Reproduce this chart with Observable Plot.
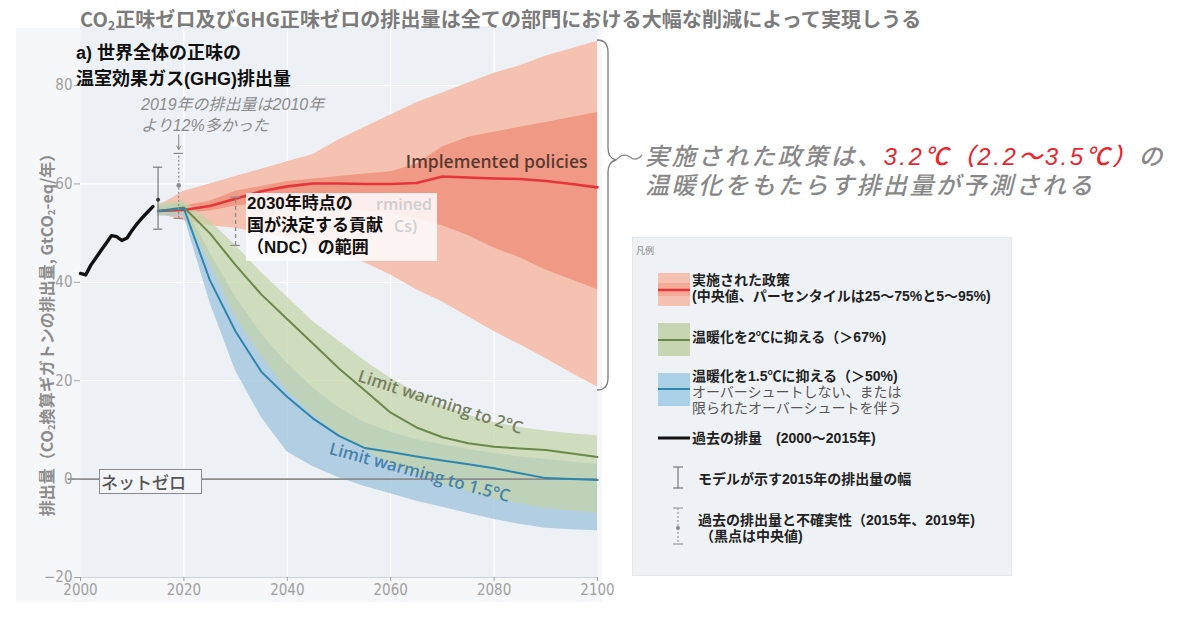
<!DOCTYPE html>
<html><head><meta charset="utf-8">
<script src="https://cdn.jsdelivr.net/npm/d3@7"></script>
<script src="https://cdn.jsdelivr.net/npm/@observablehq/plot@0.6"></script>
<style>
body{margin:0;background:#fff;font-family:"Noto Sans CJK JP","Noto Sans",sans-serif;}
#wrap{position:relative;width:1200px;height:619px;overflow:hidden;}
#wrap svg.plot{position:absolute;left:0;top:0;z-index:1;}
.abs{position:absolute;white-space:nowrap;z-index:2;}
.tight{font-family:"Liberation Sans","Noto Sans CJK JP",sans-serif;}
.lg{font-family:"Liberation Sans","Noto Sans CJK JP",sans-serif;font-size:14px;line-height:15px;font-weight:700;color:#222;}
.lgn{font-family:"Liberation Sans","Noto Sans CJK JP",sans-serif;font-size:14px;line-height:15px;font-weight:400;color:#555;}
sub{font-size:0.6em;vertical-align:-0.25em;line-height:0;}
</style></head><body><div id="wrap"></div>
<script>
// ---------- data ----------
const xTicks = [2000, 2020, 2040, 2060, 2080, 2100];
const yTicks = [-20, 0, 20, 40, 60, 80];

const histYears  = [2000,2001,2002,2003,2004,2005,2006,2007,2008,2009,2010,2011,2012,2013,2014];
const histValues = [41.8,41.5,43.5,45.0,46.5,48.0,49.5,49.3,48.5,49.0,50.6,52.0,53.2,54.3,55.4];

const years = [2015,2020,2025,2030,2035,2040,2045,2050,2055,2060,2065,2070,2075,2080,2085,2090,2095,2100];
// Implemented policies
const ipMedian = [54.5,54.7,55.5,57.0,58.5,59.5,60.1,60.1,60.0,60.0,60.2,61.5,61.3,61.1,61.0,60.6,60.0,59.3];
const ip25     = [54.0,54.0,54.5,55.5,56.0,56.0,55.5,55.0,54.5,54.0,53.0,51.5,49.5,47.0,45.0,42.5,40.5,38.5];
const ip75     = [55.0,55.5,56.5,58.5,59.5,60.5,61.0,61.5,62.0,62.5,64.0,67.5,69.5,70.5,71.5,72.5,73.5,74.5];
const ip5      = [54.0,52.5,51.5,51.0,50.0,49.0,47.5,46.0,44.0,41.5,38.5,36.0,33.0,30.0,27.3,24.5,21.5,18.7];
const ip95     = [55.5,58.5,60.0,61.5,63.0,64.5,66.0,69.0,71.5,74.0,76.5,78.5,80.5,82.5,84.0,86.0,87.5,89.0];
// Limit warming to 2°C
const c2Median = [54.5,55.2,50.0,43.5,37.5,32.5,27.5,22.5,18.0,13.5,10.5,8.5,7.3,6.6,6.2,5.9,5.2,4.5];
const c2Low    = [53.5,54.0,44.0,33.0,25.0,18.0,13.0,9.0,6.0,3.0,1.0,-1.0,-2.5,-4.0,-5.0,-6.0,-6.5,-7.0];
const c2High   = [56.0,56.5,52.5,47.5,42.0,37.0,32.0,28.0,24.0,20.5,17.5,15.0,13.0,11.5,10.5,9.8,9.2,8.8];
// Limit warming to 1.5°C
const c15Median = [54.5,55.0,40.5,30.0,21.8,16.7,12.3,8.8,6.3,5.5,4.6,3.8,3.0,2.2,1.2,0.2,0.0,-0.2];
const c15Low    = [53.5,53.5,36.0,22.0,12.5,5.5,2.5,0.3,-1.5,-3.0,-4.5,-5.7,-7.0,-8.2,-9.2,-10.0,-10.3,-10.5];
const c15High   = [55.5,56.0,46.0,37.0,29.5,23.5,18.5,14.5,11.5,9.5,8.0,7.0,6.0,5.2,4.5,4.0,3.5,3.0];

// error bars
const modelRangeYear = [2015], modelRangeLo = [50.8], modelRangeHi = [63.4], modelRangeMid = [56.8];
const histUncYear = [2019], histUncLo = [53.0], histUncHi = [66.2], histUncMid = [59.7];
const ndcYear = [2030], ndcLo = [47.5], ndcHi = [57.3];

// ---------- tables ----------
const proj = years.map((year, i) => ({year,
  ipMed: ipMedian[i], ip25: ip25[i], ip75: ip75[i], ip5: ip5[i], ip95: ip95[i],
  c2Med: c2Median[i], c2Low: c2Low[i], c2High: c2High[i],
  c15Med: c15Median[i], c15Low: c15Low[i], c15High: c15High[i]}));
const hist = histYears.map((year, i) => ({year, v: histValues[i]}));
const modelRange = modelRangeYear.map((year, i) => ({year, lo: modelRangeLo[i], hi: modelRangeHi[i], mid: modelRangeMid[i]}));
const histUnc = histUncYear.map((year, i) => ({year, lo: histUncLo[i], hi: histUncHi[i], mid: histUncMid[i]}));
const ndc = ndcYear.map((year, i) => ({year, lo: ndcLo[i], hi: ndcHi[i]}));

const capW = 0.9;
const tickFont = "'Liberation Sans Narrow','DejaVu Sans Condensed',Roboto,sans-serif";

const chart = Plot.plot({
  width: 1200, height: 619,
  marginLeft: 80, marginRight: 603, marginTop: 26, marginBottom: 42,
  style: {background: "transparent", overflow: "visible"},
  x: {domain: [2000, 2100], axis: null, label: null},
  y: {domain: [-20, 92], axis: null, label: null},
  marks: [
    Plot.frame({fill: "#edf1f6", stroke: null}),
    Plot.gridX(xTicks.slice(1, -1), {stroke: "#ffffff", strokeOpacity: 1, strokeWidth: 1.2}),
    Plot.gridY(yTicks.filter(d => d > 0), {stroke: "#ffffff", strokeOpacity: 1, strokeWidth: 1.2}),
    Plot.ruleY([-20], {stroke: "#cfd3d8", strokeWidth: 1.2}),
    // bands
    Plot.areaY(proj, {x: "year", y1: "ip5", y2: "ip95", fill: "#f5c1b0"}),
    Plot.areaY(proj, {x: "year", y1: "ip25", y2: "ip75", fill: "#f09a86"}),
    Plot.areaY(proj, {x: "year", y1: "c15Low", y2: "c15High", fill: "#a3c5de", fillOpacity: 0.8}),
    Plot.areaY(proj, {x: "year", y1: "c2Low", y2: "c2High", fill: "#c3d3a6", fillOpacity: 0.7}),
    // net zero
    Plot.ruleY([0], {x1: 1997.6, x2: 2100, stroke: "#8d8d8d", strokeWidth: 1.6}),
    // medians
    Plot.lineY(proj, {x: "year", y: "ipMed", stroke: "#e6343b", strokeWidth: 2.6}),
    Plot.lineY(proj, {x: "year", y: "c2Med", stroke: "#6b874a", strokeWidth: 2}),
    Plot.lineY(proj, {x: "year", y: "c15Med", stroke: "#2e86ad", strokeWidth: 2}),
    // history
    Plot.lineY(hist, {x: "year", y: "v", stroke: "#111", strokeWidth: 3.4, strokeLinejoin: "round"}),
    // model range 2015
    Plot.ruleX(modelRange, {x: "year", y1: "lo", y2: "hi", stroke: "#7a7a7a", strokeWidth: 1.2}),
    Plot.ruleY(modelRange, {y: "lo", x1: d => d.year - capW, x2: d => d.year + capW, stroke: "#7a7a7a", strokeWidth: 1.2}),
    Plot.ruleY(modelRange, {y: "hi", x1: d => d.year - capW, x2: d => d.year + capW, stroke: "#7a7a7a", strokeWidth: 1.2}),
    Plot.dot(modelRange, {x: "year", y: "mid", r: 2, fill: "#333"}),
    // historical uncertainty 2019
    Plot.ruleX(histUnc, {x: "year", y1: "lo", y2: "hi", stroke: "#8a8a8a", strokeWidth: 1.2, strokeDasharray: "2,2"}),
    Plot.ruleY(histUnc, {y: "lo", x1: d => d.year - capW, x2: d => d.year + capW, stroke: "#8a8a8a", strokeWidth: 1.2}),
    Plot.ruleY(histUnc, {y: "hi", x1: d => d.year - capW, x2: d => d.year + capW, stroke: "#8a8a8a", strokeWidth: 1.2}),
    Plot.dot(histUnc, {x: "year", y: "mid", r: 2.3, fill: "#8a8a8a"}),
    Plot.arrow(histUnc, {x1: "year", x2: "year", y1: 70.0, y2: 67.0, stroke: "#888", strokeWidth: 1, headLength: 6}),
    // NDC range
    Plot.ruleX(ndc, {x: "year", y1: "lo", y2: "hi", stroke: "#8a8a8a", strokeWidth: 1.3, strokeDasharray: "4,3"}),
    Plot.ruleY(ndc, {y: "lo", x1: d => d.year - capW, x2: d => d.year + capW, stroke: "#8a8a8a", strokeWidth: 1.2}),
    Plot.ruleY(ndc, {y: "hi", x1: d => d.year - capW, x2: d => d.year + capW, stroke: "#8a8a8a", strokeWidth: 1.2}),
    // curve labels
    Plot.text(["Implemented policies"], {x: 2080.5, y: 64.4, text: d => d, fontSize: 17.5, fontWeight: 600,
      fill: "#5b3a31", fontFamily: "'Open Sans',sans-serif"}),
    Plot.text(["Limit warming to 2°C"], {x: 2069.6, y: 15.6, text: d => d, rotate: 18, fontSize: 17, fontWeight: 600,
      fill: "#76805f", fontFamily: "'Open Sans',sans-serif"}),
    Plot.text(["Limit warming to 1.5°C"], {x: 2065.6, y: 1.3, text: d => d, rotate: 15, fontSize: 17, fontWeight: 600,
      fill: "#4683ab", fontFamily: "'Open Sans',sans-serif"}),
    // axes
    Plot.axisY({ticks: yTicks, tickSize: 6, tickPadding: 2, color: "#a0a0a0", fontSize: 15, fontFamily: tickFont,
      label: null, tickFormat: d => d < 0 ? "\u2212" + (-d) : String(d)}),
    Plot.axisX({ticks: xTicks, tickSize: 4, tickPadding: 3, color: "#a0a0a0", fontSize: 15, fontFamily: tickFont,
      label: null, tickFormat: d => String(d)})
  ]
});
chart.classList.add("plot");
const wrap = document.getElementById("wrap");
wrap.appendChild(chart);

// ---------- overlays ----------
wrap.insertAdjacentHTML("beforeend", `
<div class="abs" style="z-index:0;left:16px;top:28px;width:586px;height:574px;background:#f5f7f9;"></div>
<div class="abs" style="left:80px;top:6px;font-size:20px;line-height:26px;font-weight:700;color:#7b7b7b;letter-spacing:0.1px;">CO<sub>2</sub>正味ゼロ及びGHG正味ゼロの排出量は全ての部門における大幅な削減によって実現しうる</div>
<div class="abs tight" style="left:76px;top:40px;font-size:18px;line-height:26px;font-weight:700;color:#111;">a) 世界全体の正味の<br>温室効果ガス(GHG)排出量</div>
<div class="abs tight" style="left:141px;top:94px;font-size:16px;line-height:21px;font-style:italic;color:#8a8a8a;">2019年の排出量は2010年<br>より12%多かった</div>
<div class="abs" style="left:46px;top:331px;transform:translate(-50%,-50%) rotate(-90deg);font-size:16px;font-weight:700;color:#8c8c8c;">排出量（CO<sub>2</sub>換算ギガトンの排出量, GtCO<sub>2</sub>-eq/年）</div>
<div class="abs" style="left:99px;top:469px;width:100px;height:23px;border:1.5px solid #8a8a8a;background:#f3f5f8;font-size:17px;line-height:23px;color:#555;font-weight:500;padding-left:1px;">ネットゼロ</div>
<div class="abs" style="left:246px;top:193px;width:191px;height:68px;background:rgba(253,253,254,0.85);">
  <div style="position:absolute;left:130px;top:1px;font-family:'Open Sans',sans-serif;font-weight:600;font-size:16px;line-height:21px;color:#cfcfd2;">rmined</div>
  <div style="position:absolute;left:148px;top:23px;font-family:'Open Sans',sans-serif;font-weight:600;font-size:16px;line-height:21px;color:#cfcfd2;">Cs)</div>
  <div class="tight" style="position:absolute;left:1px;top:0px;font-size:17px;line-height:22px;font-weight:700;color:#111;">2030年時点の<br>国が決定する貢献<br>（NDC）の範囲</div>
</div>
<svg class="abs" style="left:0;top:0;" width="1200" height="619">
  <path d="M597,40 Q608,40 608,52 L608,148 Q608,158 616,160 Q608,162 608,172 L608,378 Q608,390 597,390" fill="none" stroke="#7a7a7a" stroke-width="1.3"/>
  <path d="M616,160 Q623,152 630,157 Q636,162 642,155" fill="none" stroke="#8a8a8a" stroke-width="1.2"/>
</svg>
<div class="abs tight" style="left:645px;top:142px;font-size:24px;line-height:29px;font-style:italic;color:#888;font-weight:500;letter-spacing:2.5px;">実施された政策は、<span style="color:#e8262d;">3.2℃（2.2～3.5℃）</span>の<br>温暖化をもたらす排出量が予測される</div>

<div class="abs" style="z-index:1;left:632px;top:237px;width:380px;height:339px;background:#eff2f5;border:1px solid #e4e7eb;box-sizing:border-box;"></div>
<div class="abs" style="left:636px;top:244px;font-size:9px;color:#888;">凡例</div>
<svg class="abs" style="left:656px;top:270px;" width="40" height="290">
  <rect x="2" y="3" width="32" height="33" fill="#f5c1b0"/>
  <rect x="2" y="13" width="32" height="13" fill="#f3ab98"/>
  <line x1="2" x2="34" y1="20" y2="20" stroke="#e6343b" stroke-width="2.5"/>
  <rect x="2" y="53" width="32" height="33" fill="#c7d5b3"/>
  <line x1="2" x2="34" y1="70" y2="70" stroke="#6b874a" stroke-width="2"/>
  <rect x="2" y="103" width="32" height="33" fill="#a9d0e6"/>
  <line x1="2" x2="34" y1="119" y2="119" stroke="#2e86ad" stroke-width="2"/>
  <line x1="2" x2="34" y1="168" y2="168" stroke="#111" stroke-width="3"/>
  <line x1="22" x2="22" y1="197" y2="218" stroke="#777" stroke-width="1.2"/>
  <line x1="17" x2="27" y1="197" y2="197" stroke="#777" stroke-width="1.2"/>
  <line x1="17" x2="27" y1="218" y2="218" stroke="#777" stroke-width="1.2"/>
  <line x1="22" x2="22" y1="238" y2="274" stroke="#999" stroke-width="1.2" stroke-dasharray="2,2"/>
  <line x1="17" x2="27" y1="238" y2="238" stroke="#999" stroke-width="1.2"/>
  <line x1="17" x2="27" y1="274" y2="274" stroke="#999" stroke-width="1.2"/>
  <circle cx="22" cy="258" r="2" fill="#888"/>
</svg>
<div class="abs lg" style="left:692px;top:273px;">実施された政策</div>
<div class="abs lg" style="left:692px;top:289px;">(中央値、パーセンタイルは25～75%と5～95%)</div>
<div class="abs lg" style="left:692px;top:330px;">温暖化を2℃に抑える（＞67%)</div>
<div class="abs lg" style="left:692px;top:369px;">温暖化を1.5℃に抑える（＞50%)</div>
<div class="abs lgn" style="left:692px;top:385px;">オーバーシュートしない、または</div>
<div class="abs lgn" style="left:692px;top:401px;">限られたオーバーシュートを伴う</div>
<div class="abs lg" style="left:692px;top:431px;">過去の排量　(2000～2015年)</div>
<div class="abs lg" style="left:698px;top:472px;">モデルが示す2015年の排出量の幅</div>
<div class="abs lg" style="left:698px;top:513px;">過去の排出量と不確実性（2015年、2019年)</div>
<div class="abs lg" style="left:700px;top:529px;">（黒点は中央値)</div>
`);
</script></body></html>
